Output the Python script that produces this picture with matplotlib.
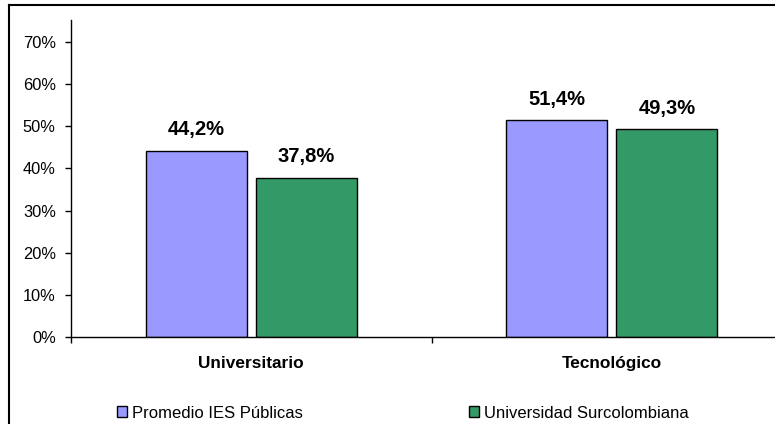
import numpy as np
import matplotlib
matplotlib.use('Agg')
import matplotlib.pyplot as plt
from matplotlib.lines import Line2D
from matplotlib.patches import Patch

plt.rcParams['font.family'] = ['Liberation Sans', 'DejaVu Sans']

# datos
categorias = ['Universitario', 'Tecnológico']
series = ['Promedio IES Públicas', 'Universidad Surcolombiana']
promedio_ies = [44.2, 51.4]
surcolombiana = [37.8, 49.3]
colores = ['#9999FF', '#339966']

fig = plt.figure(figsize=(7.75, 4.24), dpi=100)
W, H = 775, 424

# eje: izquierda en x=71, 0% en y=337, cada categoria ~360.5 px
ax = fig.add_axes([71 / W, (H - 337) / H, 721 / W, 317 / H])

x = np.arange(len(categorias)) + 0.5
ancho = 0.28
desp = 0.153
for vals, off, col in zip([promedio_ies, surcolombiana], [-desp, desp], colores):
    barras = ax.bar(x + off, vals, ancho, color=col, edgecolor='black', linewidth=1.0)
    for b, v in zip(barras, vals):
        ax.annotate(f'{v:.1f}%'.replace('.', ','),
                    (b.get_x() + b.get_width() / 2, v),
                    xytext=(0, 11), textcoords='offset points',
                    ha='center', va='baseline', fontsize=14.5, fontweight='bold')

ax.set_xlim(0, 2)
ax.set_ylim(0, 75.2)
ax.set_yticks(np.arange(0, 71, 10))
ax.set_yticklabels([f'{t}%' for t in range(0, 71, 10)])
ax.set_xticks([0, 1, 2])
ax.set_xticklabels([])
ax.tick_params(axis='y', direction='out', length=4, width=1, pad=7, labelsize=11.8)
ax.tick_params(axis='x', direction='out', length=4.5, width=1)
for c, nombre in zip(x, categorias):
    ax.annotate(nombre, (c, 0), xycoords=('data', 'axes fraction'),
                xytext=(0, -19), textcoords='offset points',
                ha='center', va='center', fontsize=12.4, fontweight='bold')

ax.spines['top'].set_visible(False)
ax.spines['right'].set_visible(False)
ax.spines['left'].set_linewidth(1.0)
ax.spines['bottom'].set_linewidth(1.0)

# leyenda
handles = [Patch(facecolor=c, edgecolor='black', linewidth=1.0) for c in colores]
fig.legend(handles, series, ncol=2, frameon=False, fontsize=12,
           loc='center left', bbox_to_anchor=(117 / W, (H - 413) / H),
           borderpad=0, borderaxespad=0, handlelength=0.62, handleheight=0.62,
           handletextpad=0.3, columnspacing=9.95)

# marco exterior (solo borde superior e izquierdo visibles)
fig.add_artist(Line2D([8.5 / W, 8.5 / W], [0, 1 - 4.5 / H], color='black', linewidth=1.5))
fig.add_artist(Line2D([8.5 / W, 1], [1 - 4.5 / H, 1 - 4.5 / H], color='black', linewidth=1.5))

fig.savefig('out.png', dpi=100)
